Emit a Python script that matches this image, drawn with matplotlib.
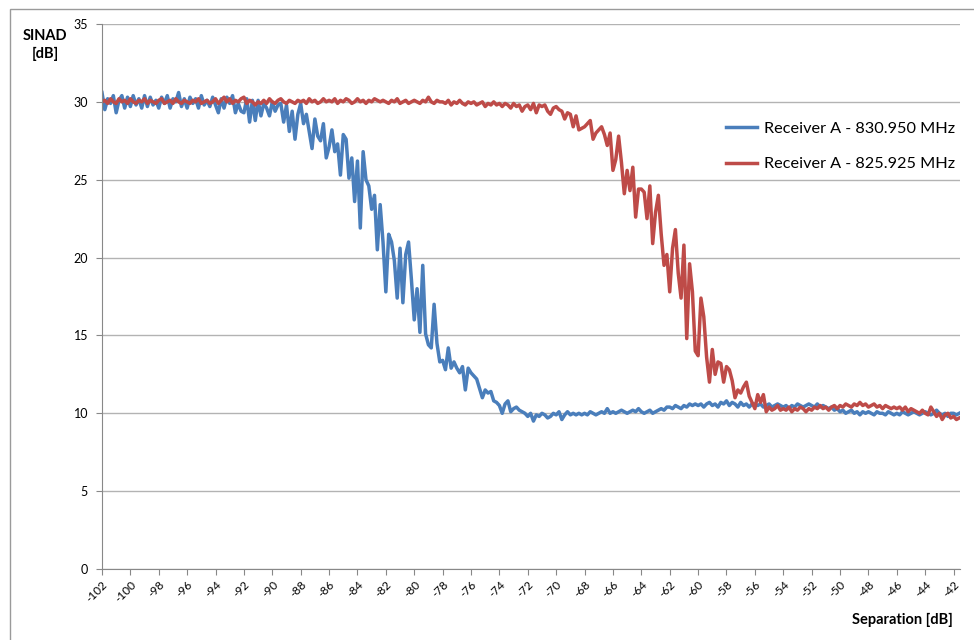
import matplotlib
matplotlib.use("Agg")
import matplotlib.pyplot as plt
from matplotlib.patches import Rectangle
import numpy as np

plt.rcParams['font.family'] = ['Lato', 'DejaVu Sans']

# separation sweep, -102 dB to -41.6 dB in 0.2 dB steps
separation = np.round(np.linspace(-102.0, -41.6, 303), 1)

# SINAD readings (dB), ten readings per 2 dB of separation
sinad_830_950 = [
    30.6, 29.5, 30.2, 29.9, 30.4, 29.3, 30.1, 30.4, 29.6, 30.3,   # -102
    29.7, 30.4, 29.8, 30.2, 29.6, 30.4, 29.7, 30.3, 29.8, 30.1,   # -100
    29.6, 30.3, 29.9, 30.4, 29.6, 30.2, 30.0, 30.6, 29.7, 30.2,   # -98
    29.6, 30.3, 29.9, 30.2, 29.6, 30.4, 29.8, 30.1, 29.7, 30.3,   # -96
    29.8, 29.3, 30.2, 29.6, 30.3, 29.9, 30.4, 29.3, 29.9, 29.4,   # -94
    29.3, 30.2, 28.7, 30.1, 28.8, 30.1, 29.1, 29.9, 29.6, 29.1,   # -92
    30.0, 29.4, 29.8, 29.9, 28.7, 29.8, 28.1, 29.4, 27.6, 29.2,   # -90
    29.9, 28.6, 29.2, 28.1, 27.0, 28.9, 27.8, 27.5, 28.6, 26.4,   # -88
    27.1, 28.2, 26.8, 27.3, 25.3, 27.9, 27.6, 25.1, 26.4, 23.6,   # -86
    26.2, 21.9, 26.8, 25.0, 24.6, 23.1, 24.0, 20.5, 23.4, 21.0,   # -84
    17.8, 21.5, 21.0, 19.8, 17.4, 20.6, 17.1, 20.2, 21.0, 18.6,   # -82
    16.0, 18.0, 15.2, 19.5, 15.1, 14.4, 14.2, 17.0, 14.5, 13.3,   # -80
    13.4, 12.8, 14.2, 12.9, 13.3, 12.9, 12.6, 13.0, 11.5, 12.9,   # -78
    12.6, 12.4, 12.2, 11.6, 11.0, 11.5, 11.3, 11.4, 10.8, 10.7,   # -76
    10.5, 10.0, 10.6, 10.8, 10.1, 10.3, 10.4, 10.2, 10.1, 10.0,   # -74
    9.8, 10.0, 9.5, 9.9, 9.8, 10.0, 9.9, 9.7, 9.8, 10.0,          # -72
    9.9, 10.1, 9.6, 9.9, 10.1, 9.9, 10.0, 9.9, 10.0, 9.9,         # -70
    10.0, 9.9, 10.1, 10.0, 9.9, 10.0, 10.1, 10.0, 10.3, 10.0,     # -68
    10.1, 10.0, 10.1, 10.2, 10.1, 10.0, 10.1, 10.2, 10.1, 10.3,   # -66
    10.1, 10.0, 10.1, 10.2, 10.0, 10.1, 10.2, 10.3, 10.2, 10.4,   # -64
    10.4, 10.3, 10.5, 10.4, 10.3, 10.5, 10.4, 10.6, 10.5, 10.6,   # -62
    10.5, 10.6, 10.4, 10.6, 10.7, 10.5, 10.6, 10.4, 10.7, 10.6,   # -60
    10.8, 10.5, 10.7, 10.6, 10.4, 10.7, 10.5, 10.6, 10.4, 10.6,   # -58
    10.6, 10.5, 10.6, 10.4, 10.5, 10.6, 10.4, 10.5, 10.6, 10.5,   # -56
    10.4, 10.5, 10.3, 10.5, 10.4, 10.6, 10.5, 10.4, 10.5, 10.6,   # -54
    10.5, 10.4, 10.6, 10.4, 10.5, 10.4, 10.3, 10.4, 10.2, 10.3,   # -52
    10.1, 10.2, 10.0, 10.1, 10.2, 10.0, 10.1, 9.9, 10.1, 10.0,    # -50
    10.1, 10.0, 9.9, 10.1, 10.0, 10.0, 9.9, 10.1, 10.0, 9.9,      # -48
    10.0, 9.9, 10.1, 10.0, 9.9, 10.0, 10.1, 10.0, 9.9, 10.0,      # -46
    10.1, 10.0, 9.9, 10.0, 10.2, 10.0, 9.9, 10.0, 9.8, 10.0,      # -44
    10.0, 9.9, 10.0,                                              # -42
]

sinad_825_925 = [
    30.0, 30.1, 29.9, 30.2, 30.0, 29.9, 30.2, 30.0, 30.1, 29.9,   # -102
    30.2, 30.0, 29.9, 30.1, 30.0, 30.2, 29.9, 30.1, 30.0, 29.9,   # -100
    30.1, 30.2, 29.9, 30.0, 30.1, 29.9, 30.2, 30.0, 29.9, 30.1,   # -98
    30.0, 29.9, 30.1, 30.0, 30.2, 29.9, 30.0, 30.1, 29.9, 30.0,   # -96
    30.2, 29.9, 30.1, 30.3, 30.0, 30.2, 29.9, 30.1, 30.0, 30.2,   # -94
    30.3, 29.9, 30.1, 30.0, 29.8, 30.0, 29.9, 30.1, 29.9, 30.2,   # -92
    30.0, 29.9, 30.1, 30.2, 30.0, 29.9, 30.1, 30.0, 29.9, 30.1,   # -90
    30.0, 30.1, 29.9, 30.2, 30.0, 30.1, 29.9, 30.0, 30.2, 30.0,   # -88
    30.1, 30.0, 30.2, 29.9, 30.1, 30.0, 30.2, 30.1, 29.9, 30.0,   # -86
    30.2, 30.0, 30.1, 29.9, 30.1, 30.0, 30.2, 30.1, 30.0, 30.1,   # -84
    30.0, 29.9, 30.1, 30.0, 30.2, 29.9, 30.0, 30.1, 29.9, 30.0,   # -82
    30.1, 30.0, 29.9, 30.1, 30.0, 30.3, 30.0, 29.9, 30.1, 30.0,   # -80
    30.0, 29.9, 30.1, 29.8, 30.0, 29.9, 30.1, 29.9, 29.8, 30.0,   # -78
    29.9, 30.0, 29.8, 29.9, 30.0, 29.7, 29.9, 29.8, 30.0, 29.8,   # -76
    29.9, 29.7, 29.9, 29.8, 29.6, 29.9, 29.7, 29.8, 29.4, 29.7,   # -74
    29.8, 29.5, 29.9, 29.3, 29.8, 29.7, 29.8, 29.4, 29.2, 29.6,   # -72
    29.7, 29.5, 29.4, 28.9, 29.3, 29.2, 28.4, 29.1, 28.2, 28.3,   # -70
    28.4, 28.6, 28.8, 27.6, 28.0, 28.2, 28.4, 27.9, 27.2, 28.0,   # -68
    25.6, 26.3, 27.8, 26.1, 24.1, 25.6, 24.3, 25.8, 22.6, 24.4,   # -66
    24.4, 24.2, 22.5, 24.6, 20.9, 22.9, 24.0, 21.5, 19.5, 20.2,   # -64
    17.8, 20.6, 21.8, 19.0, 17.4, 20.8, 14.8, 19.6, 17.8, 14.0,   # -62
    13.7, 17.4, 16.2, 13.6, 12.0, 14.1, 12.5, 13.3, 13.2, 12.0,   # -60
    13.0, 12.8, 12.1, 11.0, 11.5, 11.3, 11.7, 12.0, 11.1, 10.7,   # -58
    10.3, 11.2, 10.7, 11.2, 10.1, 10.4, 10.2, 10.3, 10.5, 10.2,   # -56
    10.3, 10.2, 10.4, 10.1, 10.3, 10.2, 10.4, 10.3, 10.1, 10.3,   # -54
    10.2, 10.4, 10.3, 10.5, 10.3, 10.4, 10.2, 10.4, 10.5, 10.3,   # -52
    10.5, 10.4, 10.6, 10.5, 10.4, 10.6, 10.5, 10.7, 10.5, 10.6,   # -50
    10.4, 10.5, 10.6, 10.4, 10.5, 10.3, 10.5, 10.4, 10.3, 10.4,   # -48
    10.3, 10.4, 10.2, 10.4, 10.1, 10.3, 10.2, 10.1, 10.0, 10.2,   # -46
    10.0, 9.9, 10.4, 10.1, 9.8, 10.0, 9.6, 9.9, 10.0, 9.7,        # -44
    9.8, 9.6, 9.7,                                                # -42
]

series_labels = ['Receiver A - 830.950 MHz', 'Receiver A - 825.925 MHz']
x_ticks = list(range(-102, -41, 2))
y_ticks = [0, 5, 10, 15, 20, 25, 30, 35]

fig = plt.figure(figsize=(9.74, 6.4), dpi=100)
ax = fig.add_axes([0.1047, 0.1109, 0.8809, 0.8516])

# chart frame around the whole plot
fig.patches.append(Rectangle((10 / 974, -0.1), 1.2, 1.1 - 9 / 640,
                             transform=fig.transFigure, fill=False,
                             edgecolor='#9a9a9a', linewidth=1.0))

ax.plot(separation, sinad_830_950, color='#4a7ebb', linewidth=2.5,
        label=series_labels[0], solid_joinstyle='round')
ax.plot(separation, sinad_825_925, color='#be4b48', linewidth=2.5,
        label=series_labels[1], solid_joinstyle='round')

ax.set_xlim(-102, -41.55)
ax.set_ylim(0, 35)
ax.set_yticks(y_ticks)
ax.set_xticks(x_ticks)
ax.set_xticklabels([str(t) for t in x_ticks], rotation=45, ha='right',
                   rotation_mode='anchor', fontsize=8.5)
ax.tick_params(axis='y', labelsize=9, length=4, color='#888888', pad=6)
ax.tick_params(axis='x', length=4, color='#888888', pad=3)

ax.grid(axis='y', color='#b3b3b3', linewidth=1.0)
ax.set_axisbelow(True)
for side in ['top', 'right']:
    ax.spines[side].set_visible(False)
for side in ['left', 'bottom']:
    ax.spines[side].set_color('#888888')

fig.text(45 / 974, 1 - 45 / 640, 'SINAD\n[dB]', ha='center', va='center',
         fontsize=10.5, fontweight='bold', linespacing=1.4)
fig.text(953 / 974, 1 - 620 / 640, 'Separation [dB]', ha='right', va='center',
         fontsize=10.5, fontweight='bold')

ax.legend(loc='upper left', bbox_to_anchor=(0.71, 0.848), frameon=False,
          fontsize=11.7, handlelength=1.9, handletextpad=0.45, labelspacing=1.3)

fig.savefig('out.png', dpi=100)
